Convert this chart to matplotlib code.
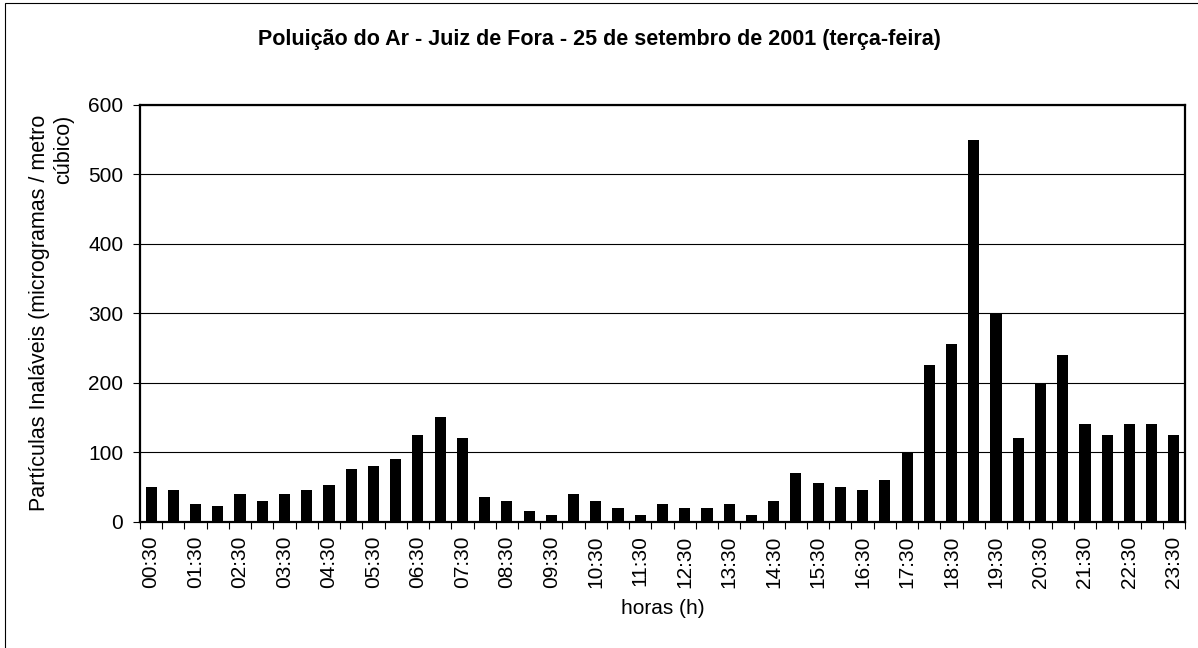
import numpy as np
import matplotlib
matplotlib.use('Agg')
import matplotlib.pyplot as plt
from matplotlib.patches import Rectangle

plt.rcParams['font.family'] = ['Liberation Sans', 'DejaVu Sans']

# half-hour readings, 00:30 .. 23:30
horas = ['%02d:%02d' % ((30 + 30 * i) // 60, (30 + 30 * i) % 60) for i in range(47)]
particulas = [50, 45, 25, 23, 40, 30, 40, 45, 53, 75, 80, 90, 125, 150, 120, 35,
              30, 15, 10, 40, 30, 20, 10, 25, 20, 20, 25, 10, 30, 70, 55, 50,
              45, 60, 100, 225, 255, 550, 300, 120, 200, 240, 140, 125, 140, 140, 125]
y_ticks = [0, 100, 200, 300, 400, 500, 600]

fig = plt.figure(figsize=(11.98, 6.48), dpi=100)
ax = fig.add_axes([140 / 1198, 1 - 521.5 / 648, 1045 / 1198, 416.5 / 648])

x = np.arange(len(horas))
ax.bar(x, particulas, width=0.5, color='black', zorder=3)

ax.set_xlim(-0.5, len(horas) - 0.5)
ax.set_ylim(0, 600)
ax.set_yticks(y_ticks)
ax.grid(axis='y', color='black', linewidth=0.8, zorder=0)

# ticks between categories, labels every other bar
ax.set_xticks(np.arange(-0.5, len(horas), 1))
ax.set_xticklabels([])
ax.set_xticks(x[::2], minor=True)
ax.set_xticklabels(horas[::2], minor=True, rotation=90, fontsize=15)
ax.tick_params(axis='x', which='major', length=5, width=0.8, direction='out')
ax.tick_params(axis='x', which='minor', length=0, pad=10)
ax.tick_params(axis='y', length=5, width=0.8, labelsize=15, pad=7)

for s in ax.spines.values():
    s.set_linewidth(1.6)

ax.set_xlabel('horas (h)', fontsize=15, labelpad=8)
ax.set_ylabel('Partículas Inaláveis (microgramas / metro\ncúbico)', fontsize=15.5,
              labelpad=10, multialignment='right')
fig.text(0.5, 1 - 40 / 648, 'Poluição do Ar - Juiz de Fora - 25 de setembro de 2001 (terça-feira)',
         ha='center', va='center', fontsize=15.5, fontweight='bold')

# outer frame of the chart area
fig.patches.append(Rectangle((5 / 1198, -0.1), 1.2, 1 - 3 / 648 + 0.1,
                             transform=fig.transFigure, fill=False,
                             edgecolor='black', linewidth=0.8))

fig.savefig('out.png', dpi=100)
